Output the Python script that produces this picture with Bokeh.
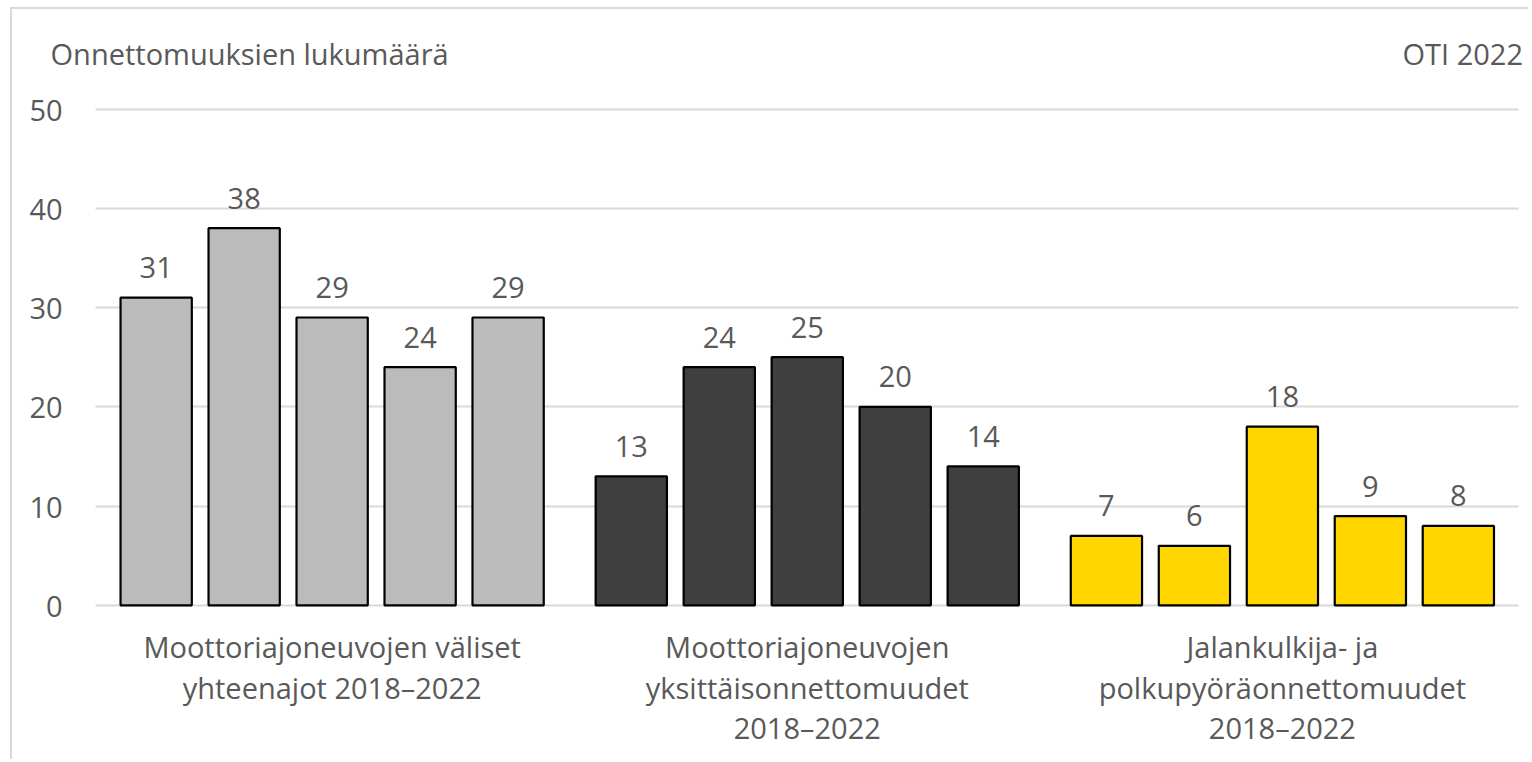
from bokeh.plotting import figure
from bokeh.models import FixedTicker, ColumnDataSource, Range1d
from bokeh.core.properties import value
from bokeh.embed import file_html
from bokeh.resources import INLINE

# ---- data ----
group_labels = [
    "Moottoriajoneuvojen väliset\nyhteenajot 2018–2022",
    "Moottoriajoneuvojen\nyksittäisonnettomuudet\n2018–2022",
    "Jalankulkija- ja\npolkupyöräonnettomuudet\n2018–2022",
]
years = ["2018", "2019", "2020", "2021", "2022"]
collisions = [31, 38, 29, 24, 29]
single_vehicle = [13, 24, 25, 20, 14]
pedestrian_bicycle = [7, 6, 18, 9, 8]
group_colors = ["#BBBBBB", "#3F3F3F", "#FFD600"]
y_ticks = [0, 10, 20, 30, 40, 50]
y_title = "Onnettomuuksien lukumäärä"
source_note = "OTI 2022"

series = [collisions, single_vehicle, pedestrian_bicycle]

FONT = "Open Sans"
TXT = "#595959"
FS = "29px"

# layout: bar pitch = 1 unit, gap between groups adds 0.4
n = len(years)
group_step = n + 0.4
xs, tops, cols = [], [], []
for gi, (vals, c) in enumerate(zip(series, group_colors)):
    for j, v in enumerate(vals):
        xs.append(gi * group_step + j)
        tops.append(v)
        cols.append(c)
group_centers = [gi * group_step + (n - 1) / 2 for gi in range(len(series))]
span_end = (len(series) - 1) * group_step + (n - 1)
pad = 0.689
grid_left, grid_right = -pad, span_end + pad

src = ColumnDataSource(dict(x=xs, top=tops, color=cols, label=[str(t) for t in tops]))

p = figure(
    x_range=Range1d(-1.633, 15.62),
    y_range=Range1d(-15.73, 60.03),
    width=1518,
    height=752,
    output_backend="svg",
    toolbar_location=None,
    min_border=0,
    background_fill_color="white",
    border_fill_color="white",
)
p.outline_line_color = None
p.styles = {"border-left": "2px solid #D9D9D9", "border-top": "2px solid #D9D9D9",
            "margin-left": "10px", "margin-top": "7px"}
p.xaxis.visible = False
p.yaxis.visible = False
p.xgrid.grid_line_color = None
p.ygrid.ticker = FixedTicker(ticks=y_ticks)
p.ygrid.cross_bounds = (grid_left, grid_right)
p.ygrid.grid_line_color = "#D9D9D9"
p.ygrid.grid_line_width = 1.8

p.vbar(x="x", top="top", width=0.81, source=src, fill_color="color",
       line_color="black", line_width=2.2)

# value labels
p.text(x="x", y="top", text="label", source=src, y_offset=-30,
       text_align="center", text_baseline="middle",
       text_font=value(FONT), text_font_size=FS, text_color=TXT)

# y tick labels
tsrc = ColumnDataSource(dict(x=[grid_left] * len(y_ticks), y=y_ticks,
                             text=[str(t) for t in y_ticks]))
p.text(x="x", y="y", text="text", source=tsrc, x_offset=-33, y_offset=1,
       text_align="right", text_baseline="middle",
       text_font=value(FONT), text_font_size=FS, text_color=TXT)

# category labels
gsrc = ColumnDataSource(dict(x=group_centers, text=group_labels, y=[0] * 3))
p.text(x="x", y="y", text="text", source=gsrc, y_offset=22, text_align="center",
       text_baseline="top", text_line_height=1.03,
       text_font=value(FONT), text_font_size=FS, text_color=TXT)

# titles
top_tick = max(y_ticks)
p.text(x=[grid_left], y=[top_tick], text=[y_title], x_offset=-45, y_offset=-56,
       text_align="left", text_baseline="middle",
       text_font=value(FONT), text_font_size=FS, text_color=TXT)
p.text(x=[grid_right], y=[top_tick], text=[source_note], x_offset=4, y_offset=-56,
       text_align="right", text_baseline="middle",
       text_font=value(FONT), text_font_size=FS, text_color=TXT)

open("out.html", "w").write(file_html(p, INLINE))
